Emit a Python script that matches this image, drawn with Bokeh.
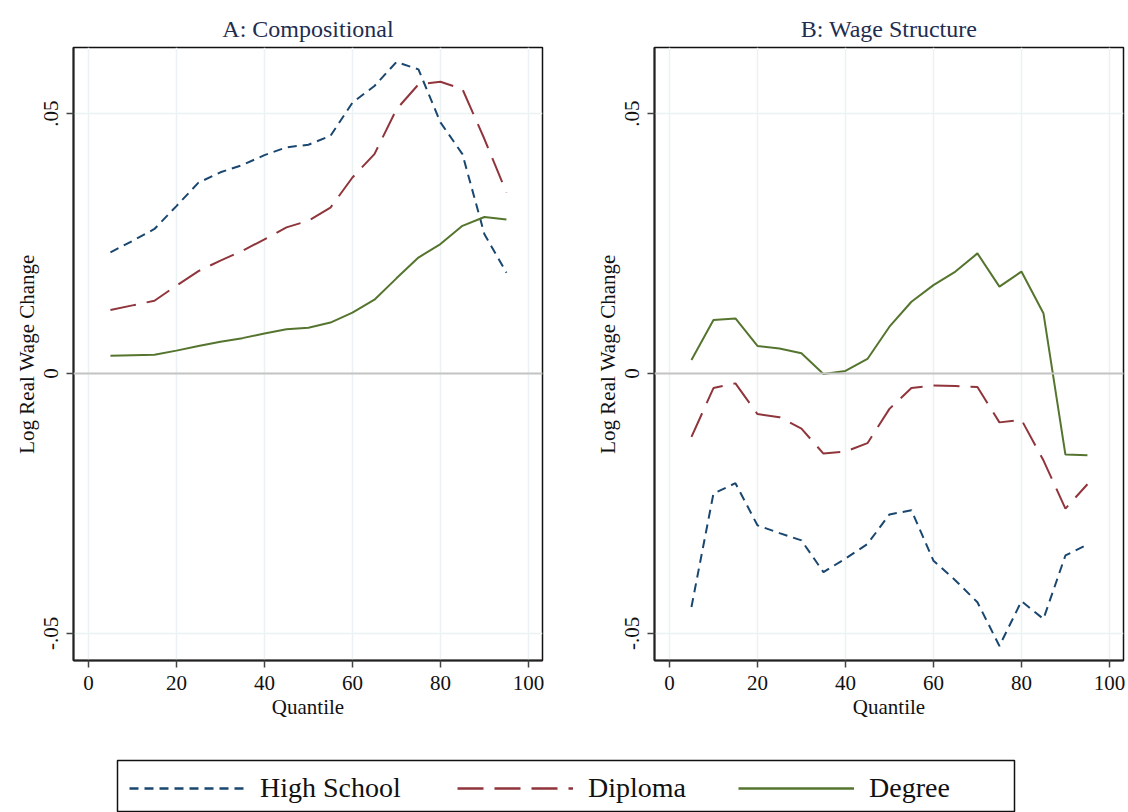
from bokeh.plotting import figure
from bokeh.models import Range1d, FixedTicker, Span, Legend, LegendItem
from bokeh.layouts import column, row
from bokeh.embed import file_html
from bokeh.resources import INLINE

# data
quantiles = [5, 10, 15, 20, 25, 30, 35, 40, 45, 50, 55, 60, 65, 70, 75, 80, 85, 90, 95]

comp_high_school = [0.0233, 0.0255, 0.0278, 0.0322, 0.0367, 0.0387, 0.0401, 0.0420, 0.0435, 0.0440,
                    0.0457, 0.0521, 0.0553, 0.0599, 0.0585, 0.0483, 0.0422, 0.0268, 0.0194]
comp_diploma = [0.0122, 0.0131, 0.0140, 0.0169, 0.0197, 0.0217, 0.0236, 0.0258, 0.0281, 0.0294,
                0.0319, 0.0377, 0.0422, 0.0508, 0.0556, 0.0561, 0.0547, 0.0451, 0.0348]
comp_degree = [0.0034, 0.0035, 0.0036, 0.0044, 0.0053, 0.0061, 0.0068, 0.0077, 0.0085, 0.0088,
               0.0098, 0.0117, 0.0142, 0.0183, 0.0223, 0.0249, 0.0284, 0.0301, 0.0296]

wage_high_school = [-0.0449, -0.0231, -0.0211, -0.0292, -0.0307, -0.0321, -0.0382, -0.0356, -0.0328, -0.0271,
                    -0.0263, -0.0360, -0.0398, -0.0440, -0.0524, -0.0438, -0.0472, -0.0350, -0.0329]
wage_diploma = [-0.0122, -0.0028, -0.0019, -0.0078, -0.0084, -0.0106, -0.0154, -0.0150, -0.0134, -0.0068,
                -0.0028, -0.0023, -0.0024, -0.0026, -0.0094, -0.0089, -0.0167, -0.0260, -0.0213]
wage_degree = [0.0026, 0.0103, 0.0106, 0.0053, 0.0048, 0.0039, -0.0001, 0.0005, 0.0028, 0.0090,
               0.0138, 0.0170, 0.0196, 0.0231, 0.0167, 0.0196, 0.0116, -0.0156, -0.0157]

series_names = ["High School", "Diploma", "Degree"]
panel_titles = ["A: Compositional", "B: Wage Structure"]
x_ticks = [0, 20, 40, 60, 80, 100]
y_ticks = [-0.05, 0, 0.05]
y_tick_labels = {-0.05: "-.05", 0: "0", 0.05: ".05"}

# stata s2color look
colors = ["#1a476f", "#90353b", "#55752f"]
dashes = ["9 6", "26 11", "solid"]
FONT = "Liberation Serif"
GRID = "#eaf2f3"


def make_panel(title, series, width, border_left, border_right):
    p = figure(width=width, height=730, output_backend="svg", toolbar_location=None,
               x_range=Range1d(-3.4, 103.2), y_range=Range1d(-0.0552, 0.0627),
               min_border_left=border_left, min_border_right=border_right,
               min_border_top=47, min_border_bottom=70)
    p.title.text = title
    p.title.align = "center"
    p.title.text_font = FONT
    p.title.text_font_size = "24px"
    p.title.text_font_style = "normal"
    p.title.text_color = "#1e2d50"
    p.title.standoff = 11
    p.outline_line_color = "#111111"
    p.outline_line_width = 1.5

    p.xaxis.ticker = FixedTicker(ticks=x_ticks)
    p.yaxis.ticker = FixedTicker(ticks=y_ticks)
    p.yaxis.major_label_overrides = y_tick_labels
    p.yaxis.major_label_orientation = "vertical"
    p.xaxis.axis_label = "Quantile"
    p.yaxis.axis_label = "Log Real Wage Change"
    for ax in (p.xaxis, p.yaxis):
        ax.axis_line_width = 2
        ax.axis_line_color = "#222222"
        ax.major_tick_line_color = "#444444"
        ax.major_tick_line_width = 1.5
        ax.major_tick_in = 0
        ax.major_tick_out = 7
        ax.minor_tick_line_color = None
        ax.major_label_text_font = FONT
        ax.major_label_text_font_size = "21px"
        ax.major_label_text_color = "#111111"
        ax.axis_label_text_font = FONT
        ax.axis_label_text_font_size = "21px"
        ax.axis_label_text_font_style = "normal"
        ax.axis_label_text_color = "#111111"
    p.xaxis.major_label_standoff = 8
    p.xaxis.axis_label_standoff = 2
    p.yaxis.major_label_standoff = 8
    p.yaxis.axis_label_standoff = 3

    p.xgrid.ticker = FixedTicker(ticks=x_ticks)
    p.ygrid.ticker = FixedTicker(ticks=y_ticks)
    p.grid.grid_line_color = GRID
    p.grid.grid_line_width = 1.5

    p.add_layout(Span(location=0, dimension="width", line_color="#c4c4c4", line_width=2))

    for ys, c, d in zip(series, colors, dashes):
        p.line(quantiles, ys, line_color=c, line_width=2, line_dash=d)
    return p


left = make_panel(panel_titles[0], [comp_high_school, comp_diploma, comp_degree], 583, 73, 41)
right = make_panel(panel_titles[1], [wage_high_school, wage_diploma, wage_degree], 543, 71, 3)

# shared legend strip: its frame outline is the legend box, the lines sit outside the visible range
leg = figure(width=1126, height=82, output_backend="svg", toolbar_location=None,
             x_range=Range1d(200, 300), y_range=Range1d(0, 1),
             min_border_left=117, min_border_right=112, min_border_top=30, min_border_bottom=0)
leg.axis.visible = False
leg.grid.visible = False
leg.outline_line_color = "#111111"
leg.outline_line_width = 1.5

item_offsets = [12, 340, 621]
for name, ys, c, d, off in zip(series_names, [comp_high_school, comp_diploma, comp_degree],
                               colors, dashes, item_offsets):
    r = leg.line(quantiles, ys, line_color=c, line_width=2.5, line_dash=d)
    legend = Legend(items=[LegendItem(label=name, renderers=[r])], location=(off, 8),
                    glyph_width=116, glyph_height=30, label_height=30, label_standoff=15,
                    padding=0, margin=0, border_line_color=None, background_fill_alpha=0,
                    label_text_font=FONT, label_text_font_size="28px", label_text_color="#111111")
    leg.add_layout(legend, "center")

layout = column(row(left, right), leg)
open("out.html", "w").write(file_html(layout, INLINE))
